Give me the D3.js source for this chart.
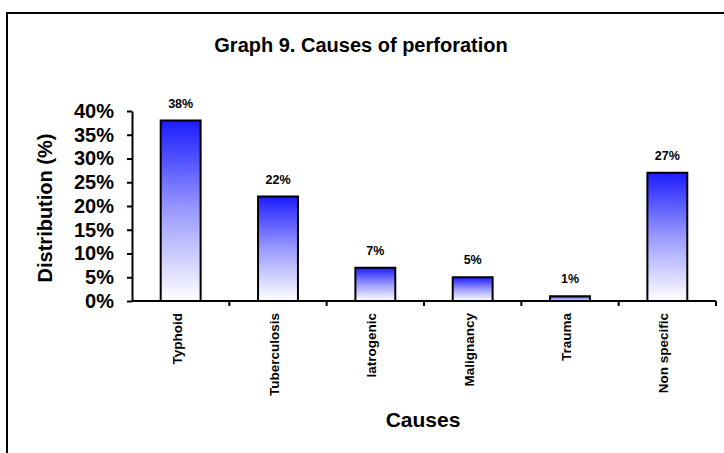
<!DOCTYPE html>
<html>
<head>
<meta charset="utf-8">
<script src="https://cdn.jsdelivr.net/npm/d3@7/dist/d3.min.js"></script>
<style>
  html, body { margin: 0; padding: 0; background: #fff; }
  svg { display: block; font-family: Arial, "Liberation Sans", sans-serif; }
</style>
</head>
<body>
<svg id="chart" width="724" height="453"></svg>
<script>
// Causes of perforation, share of cases (%)
const categories = ["Typhoid", "Tuberculosis", "Iatrogenic", "Malignancy", "Trauma", "Non specific"];
const values = [38, 22, 7, 5, 1, 27];
const yTicks = [0, 5, 10, 15, 20, 25, 30, 35, 40];

const svg = d3.select("#chart");

// outer frame
svg.append("rect")
  .attr("x", 7).attr("y", 13)
  .attr("width", 740).attr("height", 470)
  .attr("fill", "#fff").attr("stroke", "#000").attr("stroke-width", 2);

const plot = { left: 132, right: 716, top: 111, bottom: 301 };

const x = d3.scaleBand()
  .domain(categories)
  .range([plot.left, plot.right])
  .paddingInner(0.59)
  .paddingOuter(0.295);

const y = d3.scaleLinear().domain([0, 40]).range([plot.bottom, plot.top]);

// vertical gradient for each bar: blue at the top fading to white
const defs = svg.append("defs");
const grad = defs.append("linearGradient")
  .attr("id", "barFill")
  .attr("x1", 0).attr("y1", 0).attr("x2", 0).attr("y2", 1);
grad.append("stop").attr("offset", "0%").attr("stop-color", "#1c1cff");
grad.append("stop").attr("offset", "50%").attr("stop-color", "#9a9aff");
grad.append("stop").attr("offset", "100%").attr("stop-color", "#ffffff");

// title
svg.append("text")
  .attr("x", 361).attr("y", 52)
  .attr("text-anchor", "middle")
  .attr("font-size", 20).attr("font-weight", "bold")
  .text("Graph 9. Causes of perforation");

// bars
svg.append("g").selectAll("rect")
  .data(values)
  .join("rect")
  .attr("x", (d, i) => x(categories[i]))
  .attr("y", d => y(d))
  .attr("width", x.bandwidth())
  .attr("height", d => y(0) - y(d))
  .attr("fill", "url(#barFill)")
  .attr("stroke", "#000")
  .attr("stroke-width", 2);

// value labels
svg.append("g").selectAll("text")
  .data(values)
  .join("text")
  .attr("x", (d, i) => x(categories[i]) + x.bandwidth() / 2)
  .attr("y", d => y(d) - 13)
  .attr("text-anchor", "middle")
  .attr("font-size", 12.5).attr("font-weight", "bold")
  .text(d => d + "%");

// y axis
const yAxis = svg.append("g")
  .attr("transform", `translate(${plot.left},0)`)
  .call(d3.axisLeft(y).tickValues(yTicks).tickFormat(d => d + "%").tickSize(5).tickSizeOuter(0));
yAxis.select(".domain").attr("stroke", "#000").attr("stroke-width", 2);
yAxis.selectAll(".tick line").attr("stroke", "#000").attr("stroke-width", 2);
yAxis.selectAll(".tick text")
  .attr("font-size", 20).attr("font-weight", "bold")
  .attr("font-family", "Arial, 'Liberation Sans', sans-serif")
  .attr("fill", "#000").attr("x", -18);

// x axis: ticks sit between categories
const xAxis = svg.append("g")
  .attr("transform", `translate(0,${plot.bottom})`);
xAxis.append("line")
  .attr("x1", plot.left).attr("x2", plot.right)
  .attr("stroke", "#000").attr("stroke-width", 2);
const step = x.step();
xAxis.selectAll("line.tk")
  .data(categories)
  .join("line")
  .attr("class", "tk")
  .attr("x1", (d) => x(d) + x.bandwidth() / 2 + step / 2)
  .attr("x2", (d) => x(d) + x.bandwidth() / 2 + step / 2)
  .attr("y1", 0).attr("y2", 5)
  .attr("stroke", "#000").attr("stroke-width", 2);

// category labels, rotated
svg.append("g").selectAll("text")
  .data(categories)
  .join("text")
  .attr("transform", d => `translate(${x(d) + x.bandwidth() / 2 + 1},${plot.bottom + 12}) rotate(-90)`)
  .attr("text-anchor", "end")
  .attr("font-size", 13.5).attr("font-weight", "bold")
  .text(d => d);

// axis titles
svg.append("text")
  .attr("transform", `translate(52,208) rotate(-90)`)
  .attr("text-anchor", "middle")
  .attr("font-size", 20).attr("font-weight", "bold")
  .text("Distribution (%)");

svg.append("text")
  .attr("x", 423).attr("y", 427)
  .attr("text-anchor", "middle")
  .attr("font-size", 21).attr("font-weight", "bold")
  .text("Causes");
</script>
</body>
</html>
